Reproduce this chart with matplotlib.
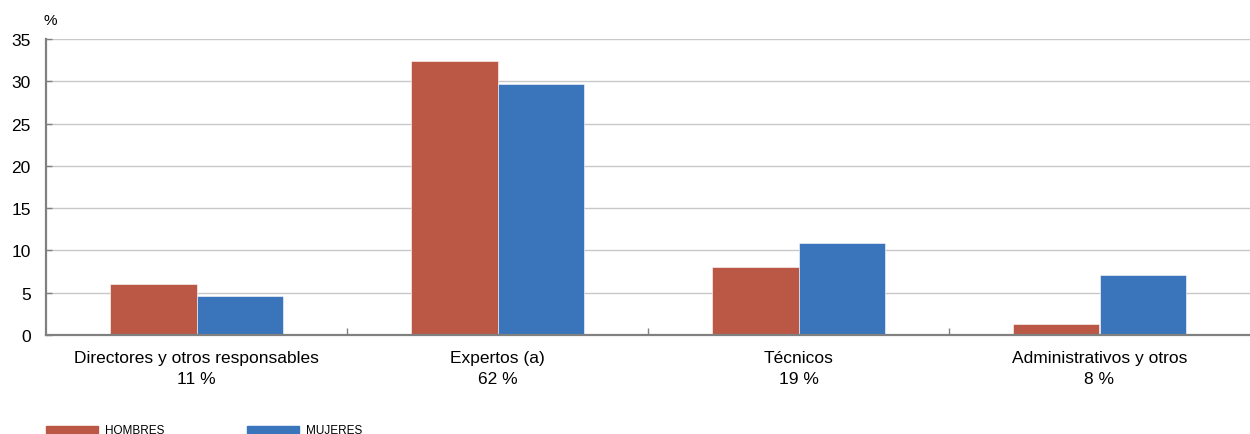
import matplotlib
matplotlib.use("Agg")
import matplotlib.pyplot as plt
import matplotlib.patches as mpatches
import numpy as np

# --- Data -------------------------------------------------------------------
categories = ["Directores y otros responsables", "Expertos (a)", "Técnicos", "Administrativos y otros"]
shares     = ["11 %", "62 %", "19 %", "8 %"]
hombres    = [6.0, 32.4, 8.0, 1.3]
mujeres    = [4.6, 29.7, 10.9, 7.1]
series     = ["HOMBRES", "MUJERES"]

C_H = "#BA5845"
C_M = "#3A75BB"
AXIS = "#808080"

plt.rcParams["font.family"] = ["Liberation Sans", "DejaVu Sans"]

fig = plt.figure(figsize=(12.5, 4.35), dpi=100)
ax = fig.add_axes([0.0368, 0.2276, 0.9632, 0.6804])

x = np.arange(len(categories))
w = 0.288
ax.bar(x - w / 2, hombres, w, color=C_H, edgecolor="white", linewidth=0.4, zorder=3)
ax.bar(x + w / 2, mujeres, w, color=C_M, edgecolor="white", linewidth=0.4, zorder=3)

ax.set_xlim(-0.5, len(categories) - 0.5)
ax.set_ylim(0, 35)
ax.set_yticks(range(0, 36, 5))
ax.grid(axis="y", color="#C8C8C8", linewidth=1.0, zorder=0)

for s in ["top", "right"]:
    ax.spines[s].set_visible(False)
for s in ["left", "bottom"]:
    ax.spines[s].set_color(AXIS)
    ax.spines[s].set_linewidth(1.6)
    ax.spines[s].set_zorder(4)

ax.set_xticks(x)
ax.set_xticklabels([f"{c}\n{p}" for c, p in zip(categories, shares)],
                   fontsize=12.5, linespacing=1.45)
ax.tick_params(axis="x", which="major", length=0, pad=11)
ax.set_xticks(x[:-1] + 0.5, minor=True)
ax.tick_params(axis="x", which="minor", direction="in", length=5, color=AXIS, width=1)
ax.tick_params(axis="y", direction="in", length=4, color=AXIS, width=1, labelsize=12.5, pad=11)

fig.text(0.0352, 0.952, "%", fontsize=11, ha="left", va="center")

handles = [mpatches.Patch(color=C_H, label=series[0]),
           mpatches.Patch(color=C_M, label=series[1])]
leg = fig.legend(handles=handles, loc="lower left", bbox_to_anchor=(0.028, -0.03),
                 ncol=2, frameon=False, handlelength=4.4, handleheight=0.6,
                 columnspacing=7.0, handletextpad=0.6, prop={"size": 8.5})

fig.savefig("out.png", dpi=100)
